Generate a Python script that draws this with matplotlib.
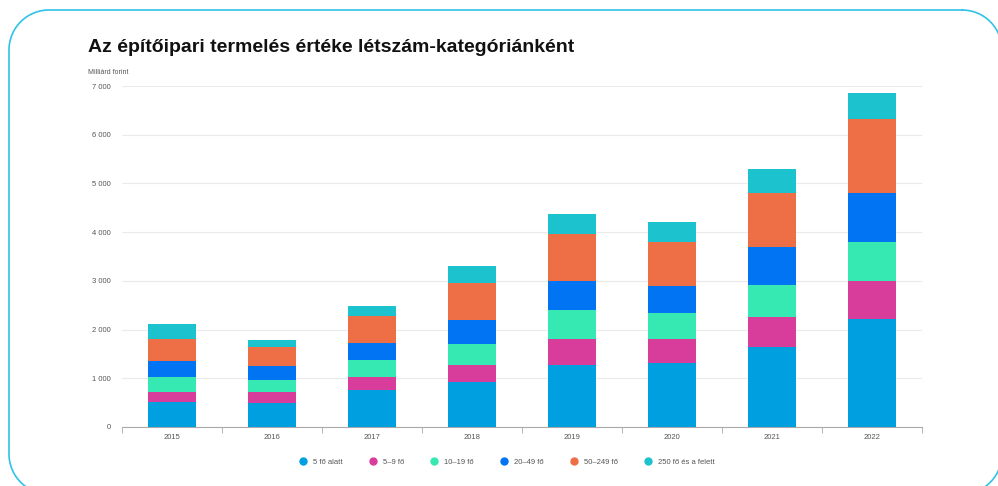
import matplotlib.pyplot as plt
from matplotlib.lines import Line2D
import numpy as np

years = ['2015', '2016', '2017', '2018', '2019', '2020', '2021', '2022']
categories = ['5 fő alatt', '5–9 fő', '10–19 fő', '20–49 fő', '50–249 fő', '250 fő és a felett']
colors = ['#009fe0', '#d93d9b', '#36e8b2', '#0074f2', '#ee6e46', '#1cc3cf']

# milliárd forint
fo_5_alatt = [520, 500, 753, 924, 1273, 1314, 1649, 2224]
fo_5_9 = [192, 212, 280, 349, 541, 500, 603, 767]
fo_10_19 = [321, 253, 343, 425, 588, 534, 664, 801]
fo_20_49 = [328, 287, 355, 492, 596, 554, 780, 1019]
fo_50_249 = [439, 384, 555, 773, 958, 890, 1115, 1507]
fo_250_felett = [315, 150, 205, 343, 411, 411, 487, 533]

series = [fo_5_alatt, fo_5_9, fo_10_19, fo_20_49, fo_50_249, fo_250_felett]

plt.rcParams['font.family'] = ['Liberation Sans', 'DejaVu Sans']

fig = plt.figure(figsize=(9.98, 4.86), dpi=100)

# rounded card frame, in pixel units from the top-left corner
bg = fig.add_axes([0, 0, 1, 1])
bg.set_xlim(0, 998)
bg.set_ylim(486, 0)
bg.axis('off')
left, top, right, bot, r = 9, 10, 1002, 494, 40
corners = [(right - r, top + r, -90, 0), (right - r, bot - r, 0, 90),
           (left + r, bot - r, 90, 180), (left + r, top + r, 180, 270)]
px, py = [], []
for cx, cy, a0, a1 in corners:
    t = np.radians(np.linspace(a0, a1, 30))
    px.extend(cx + r * np.cos(t))
    py.extend(cy + r * np.sin(t))
px.append(px[0])
py.append(py[0])
bg.plot(px, py, color='#2fc3e8', linewidth=1.2)

ax = fig.add_axes([0.1222, 0.1214, 0.8016, 0.7016])

x = np.arange(len(years))
bottom = np.zeros(len(years))
for vals, col, lab in zip(series, colors, categories):
    ax.bar(x, vals, width=0.48, bottom=bottom, color=col, label=lab, zorder=3)
    bottom += np.array(vals)

ax.set_xlim(-0.5, len(years) - 0.5)
ax.set_ylim(0, 7000)
ax.set_yticks(range(0, 7001, 1000))
ax.set_yticklabels(['0' if v == 0 else f'{v // 1000} 000' for v in range(0, 7001, 1000)])
ax.yaxis.grid(True, color='#ebebeb', linewidth=0.8, zorder=0)
ax.tick_params(axis='y', length=0, labelsize=5.5, labelcolor='#555555', pad=8)

ax.set_xticks(x)
ax.set_xticklabels(years)
ax.set_xticks(np.arange(-0.5, len(years)), minor=True)
ax.tick_params(axis='x', which='major', length=0, labelsize=5.5, labelcolor='#555555', pad=5)
ax.tick_params(axis='x', which='minor', length=4, width=0.6, color='#aaaaaa', direction='out')

for s in ['top', 'right', 'left']:
    ax.spines[s].set_visible(False)
ax.spines['bottom'].set_color('#aaaaaa')
ax.spines['bottom'].set_linewidth(0.8)

fig.text(88 / 998, 1 - 47 / 486, 'Az építőipari termelés értéke létszám-kategóriánként',
         fontsize=14, fontweight='bold', color='#111111', va='center', ha='left')
fig.text(88 / 998, 1 - 72 / 486, 'Milliárd forint', fontsize=5, color='#555555', va='center', ha='left')

handles = [Line2D([0], [0], marker='o', linestyle='', markersize=5, markerfacecolor=c, markeredgecolor=c)
           for c in colors]
fig.legend(handles, categories, loc='center', bbox_to_anchor=(505 / 998, 1 - 462 / 486), ncol=6,
           frameon=False, fontsize=5.5, handletextpad=0.35, columnspacing=2.9, labelcolor='#555555')

fig.savefig('out.png', dpi=100)
